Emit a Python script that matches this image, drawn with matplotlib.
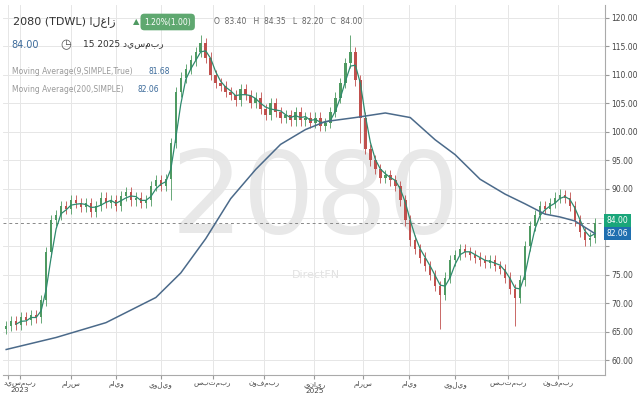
import matplotlib
matplotlib.use("Agg")
import matplotlib.pyplot as plt
import numpy as np

closes = [66.0,66.8,66.2,67.5,67.0,68.0,67.5,70.5,79.0,84.5,85.5,87.0,86.5,88.0,87.5,86.8,87.5,86.0,87.0,88.5,
87.5,88.0,87.0,88.8,89.5,88.0,88.5,87.5,88.0,90.5,91.5,90.5,91.8,98.0,107.0,109.5,111.0,112.5,114.0,115.5,
113.0,110.0,108.5,108.0,107.0,106.5,105.5,107.5,106.5,105.0,106.0,104.0,103.0,105.0,103.5,102.5,103.0,102.0,103.5,102.0,
102.5,101.5,102.5,101.0,101.5,103.5,106.0,108.5,112.0,114.0,109.0,102.5,97.0,95.0,93.5,92.0,92.5,91.5,90.5,88.0,
84.5,81.0,79.5,78.0,76.5,75.0,73.0,71.5,74.5,77.5,78.5,79.5,79.0,78.5,78.0,77.5,77.0,77.5,76.5,76.0,
74.5,72.5,71.0,74.0,80.0,83.5,85.5,87.0,86.5,87.5,88.5,89.0,88.5,87.0,84.5,82.5,81.0,81.5,84.0]
first_open = 65.5
long_wick_lows = {87: 65.5, 102: 66.0, 33: 88.0, 71: 98.0, 81: 80.0}
long_wick_highs = {39: 117.0, 69: 117.0, 111: 90.0}

ma200_idx = [0,10,20,30,35,40,45,50,55,60,64,70,76,81,86,90,95,100,104,108,111,114,118]
ma200_val = [61.9,64.0,66.6,71.0,75.3,81.3,88.3,93.4,97.8,100.4,101.8,102.5,103.3,102.5,98.6,96.0,91.7,89.1,87.4,85.6,85.1,84.4,82.2]

tick_pos = [0.4,2.8,13,22,31,41.4,51.6,61.8,71.6,80.8,90,100.6,110.6]
tick_lab = ["","ديسمبر\n2023","مارس","مايو","يوليو","سبتمبر","نوفمبر","يناير\n2025","مارس","مايو","يوليو","سبتمبر","نوفمبر"]
yticks = [60,65,70,75,80,85,90,95,100,105,110,115,120]

plt.rcParams['font.family'] = ['DejaVu Sans']
fig = plt.figure(figsize=(6.4,4.0), dpi=100)
ax = fig.add_axes([0.005,0.062,0.94,0.9255])
n = len(closes)
x = np.arange(n)
opens = [first_open] + closes[:-1]
up_c, dn_c = "#4f9a62", "#c0504d"
for i in x:
    o, c = opens[i], closes[i]
    col = up_c if c >= o else dn_c
    hi = long_wick_highs.get(i, max(o,c)+0.9)
    lo = long_wick_lows.get(i, min(o,c)-0.9)
    ax.vlines(i, lo, hi, color=col, lw=0.6, zorder=3)
    ax.bar(i, max(abs(c-o),0.15), bottom=min(o,c), width=0.5, color=col, zorder=3)

ma9 = np.convolve(closes, np.ones(3)/3, mode='valid')
ax.plot(x[2:], ma9, color="#2f8a6e", lw=0.9, zorder=4)
ax.plot(ma200_idx, ma200_val, color="#4b6a8a", lw=1.1, zorder=4)
ax.axhline(closes[-1], color="#888888", lw=0.7, ls=(0,(3,3)), zorder=2)

ax.set_xlim(-0.6, 120)
ax.set_ylim(57.4, 122.2)
ax.yaxis.tick_right()
ax.set_yticks(yticks)
ax.set_yticklabels(["" if v in (80, 85) else f"{v:.2f}" for v in yticks], fontsize=5.5, color="#444444")
ax.set_xticks(tick_pos)
ax.set_xticklabels(tick_lab, fontsize=5.2, color="#444444", linespacing=0.95)
ax.tick_params(axis='both', length=3, color="#999999", pad=1.5)
ax.grid(True, color="#e6e6e6", lw=0.7)
for s in ["top","left"]:
    ax.spines[s].set_visible(False)
ax.spines["right"].set_color("#aaaaaa")
ax.spines["bottom"].set_color("#aaaaaa")

ax.text(0.52, 0.47, "2080", transform=ax.transAxes, fontsize=82, color="#e8e8e8",
        ha="center", va="center", zorder=1)
ax.text(0.52, 0.27, "DirectFN", transform=ax.transAxes, fontsize=8, color="#e2e2e2",
        ha="center", va="center", zorder=1)

ax.text(1.003, (84.5-57.4)/64.8, "84.00", transform=ax.transAxes, fontsize=5.5, color="white",
        va="center", bbox=dict(boxstyle="square,pad=0.3", fc="#1aa67a", ec="none"), zorder=6)
ax.text(1.003, (82.2-57.4)/64.8, "82.06", transform=ax.transAxes, fontsize=5.5, color="white",
        va="center", bbox=dict(boxstyle="square,pad=0.3", fc="#1f6fb0", ec="none"), zorder=6)

fig.text(0.02, 0.945, "2080 (TDWL) الغاز", fontsize=8, color="#333333", va="center")
fig.text(0.208, 0.945, "▲", fontsize=6, color="#4f9a62", va="center")
fig.text(0.262, 0.945, "1.20%(1.00)", fontsize=5.5, color="white", ha="center", va="center",
         bbox=dict(boxstyle="round,pad=0.5", fc="#5fa870", ec="none"))
fig.text(0.335, 0.945, "O  83.40   H  84.35   L  82.20   C  84.00", fontsize=5.5, color="#666666", va="center")
fig.text(0.018, 0.888, "84.00", fontsize=7, color="#3b6a9a", va="center")
fig.text(0.095, 0.888, "◷", fontsize=9, color="#555555", va="center")
fig.text(0.13, 0.888, "15 2025 ديسمبر", fontsize=6.5, color="#333333", va="center")
fig.text(0.018, 0.822, "Moving Average(9,SIMPLE,True)", fontsize=5.5, color="#999999", va="center")
fig.text(0.232, 0.822, "81.68", fontsize=5.5, color="#3b6a9a", va="center")
fig.text(0.018, 0.775, "Moving Average(200,SIMPLE)", fontsize=5.5, color="#999999", va="center")
fig.text(0.215, 0.775, "82.06", fontsize=5.5, color="#3b6a9a", va="center")

fig.savefig("out.png", dpi=100, facecolor="white")
